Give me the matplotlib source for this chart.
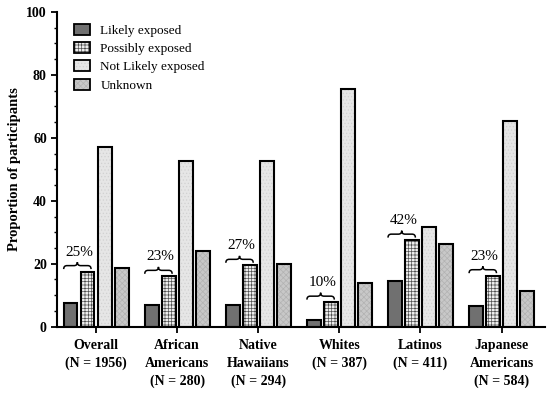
import numpy as np
import matplotlib.pyplot as plt
from matplotlib.patches import Patch, PathPatch
from matplotlib.path import Path
from matplotlib.ticker import MultipleLocator

plt.rcParams['font.family'] = ['Liberation Serif', 'DejaVu Serif']
plt.rcParams['hatch.linewidth'] = 0.5

groups = ['Overall\n(N = 1956)', 'African\nAmericans\n(N = 280)', 'Native\nHawaiians\n(N = 294)',
          'Whites\n(N = 387)', 'Latinos\n(N = 411)', 'Japanese\nAmericans\n(N = 584)']
likely = [7.6, 7.0, 7.0, 2.0, 14.5, 6.5]
possibly = [17.5, 16.0, 19.5, 7.8, 27.5, 16.2]
not_likely = [57.0, 52.5, 52.5, 75.5, 31.7, 65.3]
unknown = [18.5, 24.0, 20.0, 14.0, 26.3, 11.3]
pct_labels = ['25%', '23%', '27%', '10%', '42%', '23%']

series = [
    ('Likely exposed', likely, '#707070', None, '#707070'),
    ('Possibly exposed', possibly, '#eeeeee', '+++++', '#505050'),
    ('Not Likely exposed', not_likely, '#e6e6e6', '.....', '#d2d2d2'),
    ('Unknown', unknown, '#c8c8c8', 'xxxxxx', '#b2b2b2'),
]


def brace(ax, x0, x1, y0, h):
    xm = (x0 + x1) / 2
    d = (x1 - x0) * 0.12
    yh = y0 + h / 2
    verts = [(x0, y0), (x0, yh), (x0 + d, yh),
             (xm - d, yh), (xm, yh), (xm, y0 + h),
             (xm, yh), (xm + d, yh),
             (x1 - d, yh), (x1, yh), (x1, y0)]
    codes = [Path.MOVETO, Path.CURVE3, Path.CURVE3,
             Path.LINETO, Path.CURVE3, Path.CURVE3,
             Path.CURVE3, Path.CURVE3,
             Path.LINETO, Path.CURVE3, Path.CURVE3]
    ax.add_patch(PathPatch(Path(verts, codes), fill=False, lw=1.1, edgecolor='black', zorder=4))


fig, ax = plt.subplots(figsize=(5.5, 3.96), dpi=100)
fig.subplots_adjust(left=0.104, right=0.99, top=0.97, bottom=0.175)

x = np.arange(len(groups))
w = 0.17
offs = [-0.315, -0.105, 0.105, 0.315]
handles = []
for (name, vals, fc, hatch, hc), o in zip(series, offs):
    ax.bar(x + o, vals, w, color=fc, hatch=hatch, edgecolor=hc, linewidth=0, zorder=2)
    ax.bar(x + o, vals, w, fill=False, edgecolor='black', linewidth=1.5, zorder=3)
    handles.append((Patch(facecolor=fc, hatch=hatch, edgecolor=hc, linewidth=0),
                    Patch(fill=False, edgecolor='black', linewidth=1.3)))

# braces over likely + possibly bars
for i in range(len(groups)):
    top = max(likely[i], possibly[i])
    brace(ax, x[i] + offs[0] - w / 2, x[i] + offs[1] + w * 0.25, top + 0.8, 2.2)
    ax.text(x[i] + (offs[0] + offs[1]) / 2, top + 6.2, pct_labels[i], ha='center', va='center',
            fontsize=11)

ax.set_ylim(0, 100)
ax.set_xlim(-0.48, 5.53)
ax.yaxis.set_major_locator(MultipleLocator(20))
ax.yaxis.set_minor_locator(MultipleLocator(5))
ax.set_xticks(x)
ax.set_xticklabels(groups, fontweight='bold', fontsize=10, linespacing=1.45)
for lbl in ax.get_yticklabels():
    lbl.set_fontweight('bold')
ax.tick_params(axis='both', labelsize=10, width=1.3, length=4)
ax.tick_params(axis='x', pad=5)
ax.tick_params(axis='y', which='minor', width=1.0, length=2.5)
ax.set_ylabel('Proportion of participants', fontweight='bold', fontsize=10.5)
for s in ['top', 'right']:
    ax.spines[s].set_visible(False)
for s in ['left', 'bottom']:
    ax.spines[s].set_linewidth(1.5)

ax.legend(handles, [s[0] for s in series], loc='upper left', bbox_to_anchor=(0.01, 1.0),
          frameon=False, fontsize=9.5, handlelength=1.2, handleheight=0.9, labelspacing=0.4,
          handletextpad=0.8)

fig.savefig('out.png', dpi=100)
